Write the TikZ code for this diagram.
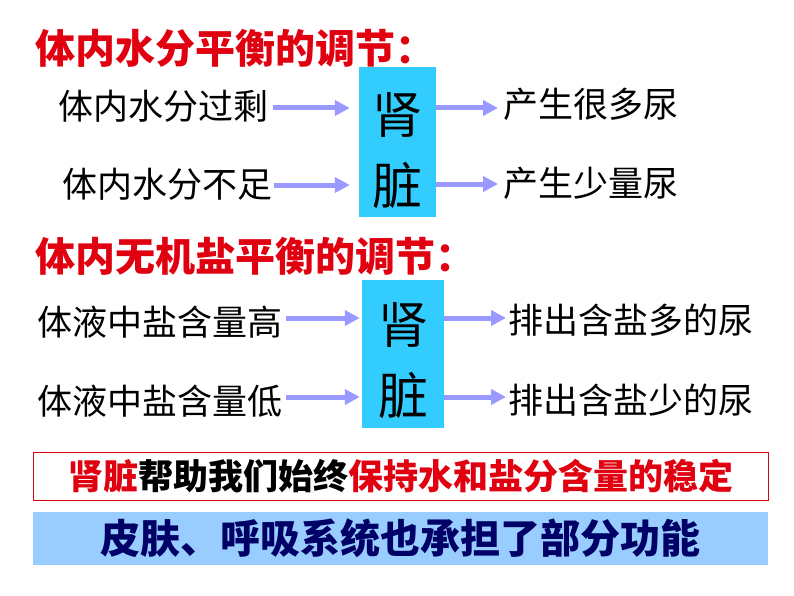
\documentclass[tikz,border=0pt]{standalone}
\usepackage{fontspec}
\setmainfont{Noto Sans CJK SC}
\usetikzlibrary{arrows.meta}
\definecolor{tred}{HTML}{E00010}
\definecolor{kcyan}{HTML}{33CCFF}
\definecolor{arr}{HTML}{9999FF}
\definecolor{lblue}{HTML}{99CCFF}
\definecolor{navy}{HTML}{000066}
\tikzset{
  body/.style={font=\fontsize{35}{35}\selectfont, inner sep=0pt, text height=30.5pt, text depth=4.5pt},
  title/.style={font=\bfseries\fontsize{40}{40}\selectfont, text=tred, inner sep=0pt, anchor=west,
                text height=35pt, text depth=5pt},
  kidney/.style={fill=kcyan, draw=none, inner sep=0pt},
  kchar/.style={font=\fontsize{50}{50}\selectfont, inner sep=0pt, text height=44pt, text depth=6pt},
  flow/.style={draw=arr, line width=5pt, -{Triangle[length=15pt,width=15pt]}},
}
\begin{document}
\begin{tikzpicture}[x=1pt,y=-1pt]
\useasboundingbox (0,0) rectangle (794,596);
% titles
\node[title] (t1) at (35,49) {体内水分平衡的调节：};
\node[title] (t2) at (35,256) {体内无机盐平衡的调节：};
% kidney boxes
\node[kidney, minimum width=77pt, minimum height=150pt] (k1) at (397.5,142) {};
\node[kchar] (k1a) at (397.5,115) {肾};
\node[kchar] (k1b) at (397.5,185) {脏};
\node[kidney, minimum width=82pt, minimum height=148pt] (k2) at (403,354) {};
\node[kchar] (k2a) at (403,324) {肾};
\node[kchar] (k2b) at (403,395) {脏};
% texts section 1
\node[body, anchor=west] (l1) at (58,107) {体内水分过剩};
\node[body, anchor=west] (l2) at (62,184) {体内水分不足};
\node[body, anchor=west] (r1) at (503,105) {产生很多尿};
\node[body, anchor=west] (r2) at (503,183) {产生少量尿};
% texts section 2
\node[body, anchor=west] (l3) at (37,322) {体液中盐含量高};
\node[body, anchor=west] (l4) at (37,401) {体液中盐含量低};
\node[body, anchor=west] (r3) at (508,320) {排出含盐多的尿};
\node[body, anchor=west] (r4) at (508,400) {排出含盐少的尿};
% arrows
\draw[flow, shorten >=9pt] (l1.east |- 0,108) ++(5,0) -- (k1.west |- 0,108);
\draw[flow, shorten >=9pt] (l2.east |- 0,185) ++(2,0) -- (k1.west |- 0,185);
\draw[flow, shorten >=5pt] (k1.east |- 0,108) -- (r1.west |- 0,108);
\draw[flow, shorten >=5pt] (k1.east |- 0,184) -- (r2.west |- 0,184);
\draw[flow, shorten >=2pt] (l3.east |- 0,318) ++(4,0) -- (k2.west |- 0,318);
\draw[flow, shorten >=2pt] (l4.east |- 0,397) ++(4,0) -- (k2.west |- 0,397);
\draw[flow, shorten >=2pt] (k2.east |- 0,318) -- (r3.west |- 0,318);
\draw[flow, shorten >=2pt] (k2.east |- 0,397) -- (r4.west |- 0,397);
% summary boxes
\node[draw=tred, line width=1pt, fill=white, minimum width=735pt, minimum height=48pt, inner sep=0pt,
      font=\bfseries\fontsize{35}{35}\selectfont, text height=30.5pt, text depth=4.5pt] (sum) at (400.5,476)
  {\textcolor{tred}{肾脏}帮助我们始终\textcolor{tred}{保持水和盐分含量的稳定}};
\node[fill=lblue, minimum width=735pt, minimum height=53pt, inner sep=0pt, text=navy,
      font=\bfseries\fontsize{40}{40}\selectfont, text height=35pt, text depth=5pt] (skin) at (400.5,538.5)
  {皮肤、呼吸系统也承担了部分功能};
\end{tikzpicture}
\end{document}
